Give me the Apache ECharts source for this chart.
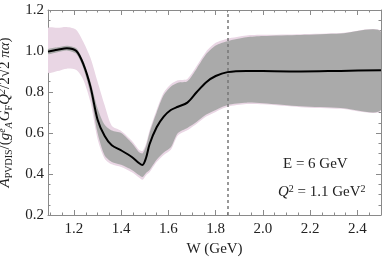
<!DOCTYPE html>
<html><head><meta charset="utf-8">
<script src="https://cdn.jsdelivr.net/npm/echarts@6/dist/echarts.min.js"></script>
<style>html,body{margin:0;padding:0;background:#fff}#c{width:382px;height:257px}</style>
</head><body><div id="c"></div>
<script>
var W = [1.09,1.13,1.17,1.21,1.24,1.27,1.30,1.33,1.36,1.40,1.445,1.475,1.49,1.505,1.52,1.55,1.58,1.61,1.64,1.68,1.72,1.76,1.80,1.85,1.93,2.00,2.16,2.33,2.50];
var central = [0.997,1.006,1.014,1.0,0.935,0.825,0.665,0.585,0.54,0.515,0.483,0.454,0.444,0.478,0.545,0.628,0.68,0.712,0.728,0.748,0.80,0.848,0.878,0.897,0.903,0.902,0.900,0.903,0.906];
var greyHi = [1.009,1.018,1.026,1.013,0.95,0.85,0.72,0.64,0.612,0.60,0.551,0.507,0.50,0.535,0.60,0.70,0.785,0.826,0.845,0.852,0.915,0.985,1.027,1.048,1.067,1.073,1.078,1.085,1.093];
var greyLo = [0.985,0.994,1.002,0.985,0.915,0.79,0.60,0.49,0.459,0.445,0.42,0.395,0.385,0.405,0.42,0.47,0.505,0.53,0.60,0.625,0.655,0.69,0.712,0.737,0.748,0.745,0.73,0.722,0.713];
var pinkHi = [1.112,1.113,1.117,1.103,1.044,0.966,0.85,0.735,0.635,0.61,0.562,0.518,0.512,0.548,0.612,0.712,0.797,0.838,0.857,0.864,0.928,0.998,1.04,1.06,1.076,1.079,1.082,1.088,1.095];
var pinkLo = [0.895,0.902,0.914,0.907,0.859,0.75,0.57,0.475,0.447,0.434,0.408,0.383,0.372,0.393,0.408,0.458,0.493,0.518,0.588,0.613,0.645,0.68,0.703,0.728,0.741,0.74,0.726,0.718,0.71];
var thresholdW = 1.85;
var xTicks = [1.2,1.4,1.6,1.8,2.0,2.2,2.4];

function pairs(ys){return W.map(function(w,i){return [w, ys[i]];});}
function triples(lo,hi){return W.map(function(w,i){return [w, lo[i], hi[i]];});}

var serif = 'Liberation Serif';
var axisCol = '#8a8a8a';
function isTick(v, list){return list.some(function(t){return Math.abs(t-v)<1e-6;});}

function xAx(pos, show){
  return {type:'value', position:pos, min:1.09, max:2.5, splitNumber:7,
    axisLine:{show:true, onZero:false, lineStyle:{color:axisCol,width:1}},
    axisTick:{show:true, inside:true, length:5, lineStyle:{color:axisCol}},
    minorTick:{show:true, splitNumber:4, length:2.5, lineStyle:{color:axisCol}},
    splitLine:{show:false},
    axisLabel:{show:show, showMinLabel:false, showMaxLabel:false, color:'#222', fontFamily:serif, fontSize:15, margin:7,
      formatter:function(v){return isTick(v,xTicks)? v.toFixed(1):'';}},
    name: show? 'W (GeV)':'', nameLocation:'middle', nameGap:27,
    nameTextStyle:{color:'#222', fontFamily:serif, fontSize:15}
  };
}
function yAx(pos, show){
  return {type:'value', position:pos, min:0.2, max:1.2, interval:0.2,
    axisLine:{show:true, onZero:false, lineStyle:{color:axisCol,width:1}},
    axisTick:{show:true, inside:true, length:5, lineStyle:{color:axisCol}},
    minorTick:{show:true, splitNumber:4, length:2.5, lineStyle:{color:axisCol}},
    splitLine:{show:false},
    axisLabel:{show:show, color:'#222', fontFamily:serif, fontSize:15, margin:4,
      formatter:function(v){return v.toFixed(1);}},
    name: show? '{i|A}{sub|PVDIS}{n|/(}{i|g}{supsub|e}{subA|A}{i|G}{sub|F}{i|Q}{sup|2}{n|/2√}{n|2}{n| }{i|πα}{n|)}':'',
    nameLocation:'middle', nameRotate:90, nameGap:34,
    nameTextStyle:{color:'#222', fontFamily:serif, fontSize:14,
      rich:{
        i:{fontFamily:serif, fontStyle:'italic', fontSize:15, color:'#222'},
        n:{fontFamily:serif, fontSize:15, color:'#222'},
        sub:{fontFamily:serif, fontSize:10, color:'#222', padding:[7,0,0,0]},
        supsub:{fontFamily:serif, fontStyle:'italic', fontSize:10, color:'#222', padding:[0,0,7,0]},
        subA:{fontFamily:serif, fontStyle:'italic', fontSize:10, color:'#222', padding:[7,1,0,0]},
        sup:{fontFamily:serif, fontStyle:'italic', fontSize:10, color:'#222', padding:[0,0,7,0]}
      }}
  };
}

function bandRenderer(lo, hi, color){
  return function(params, api){
    if (params.dataIndex !== 0) return null;
    var pts = [];
    for (var i = 0; i < W.length; i++) pts.push(api.coord([W[i], hi[i]]));
    for (var j = W.length - 1; j >= 0; j--) pts.push(api.coord([W[j], lo[j]]));
    return {type:'polygon', shape:{points:pts, smooth:0.25}, style:{fill:color, stroke:null},
      clipPath:{type:'rect', shape:{x:params.coordSys.x, y:params.coordSys.y, width:params.coordSys.width, height:params.coordSys.height}}};
  };
}

var chart = echarts.init(document.getElementById('c'), null, {renderer:'canvas'});
var pink = '#e9d6e4', grey = '#aaaaaa';
chart.setOption({
  animation:false,
  backgroundColor:'#fff',
  grid:{left:48, right:1, top:10, bottom:42, containLabel:false, outerBoundsMode:'none'},
  xAxis:[xAx('bottom',true), xAx('top',false)],
  yAxis:[yAx('left',true), yAx('right',false)],
  series:[
    {type:'custom', data:triples(pinkLo,pinkHi), encode:{x:0, y:[1,2]}, renderItem:bandRenderer(pinkLo,pinkHi,pink), silent:true, z:1},
    {type:'custom', data:triples(greyLo,greyHi), encode:{x:0, y:[1,2]}, renderItem:bandRenderer(greyLo,greyHi,grey), silent:true, z:2},
    {type:'line', data:pairs(central), symbol:'none', smooth:0.3, lineStyle:{color:'#000', width:2}, z:5,
      markLine:{silent:true, symbol:'none', label:{show:false},
        lineStyle:{color:'#777', type:[3,3], width:1.5},
        data:[{xAxis:thresholdW}]}}
  ],
  graphic:[
    {type:'text', left:283, top:157, style:{text:'E = 6 GeV', font:'15px "Liberation Serif"', fill:'#222'}},
    {type:'text', left:278, top:184, style:{text:'{i|Q}{s|2}{n| = 1.1 GeV}{s|2}',
      rich:{i:{font:'italic 15px "Liberation Serif"', fill:'#222'}, n:{font:'15px "Liberation Serif"', fill:'#222'},
            s:{font:'10px "Liberation Serif"', fill:'#222', padding:[0,0,7,0]}}}}
  ]
});
</script></body></html>
